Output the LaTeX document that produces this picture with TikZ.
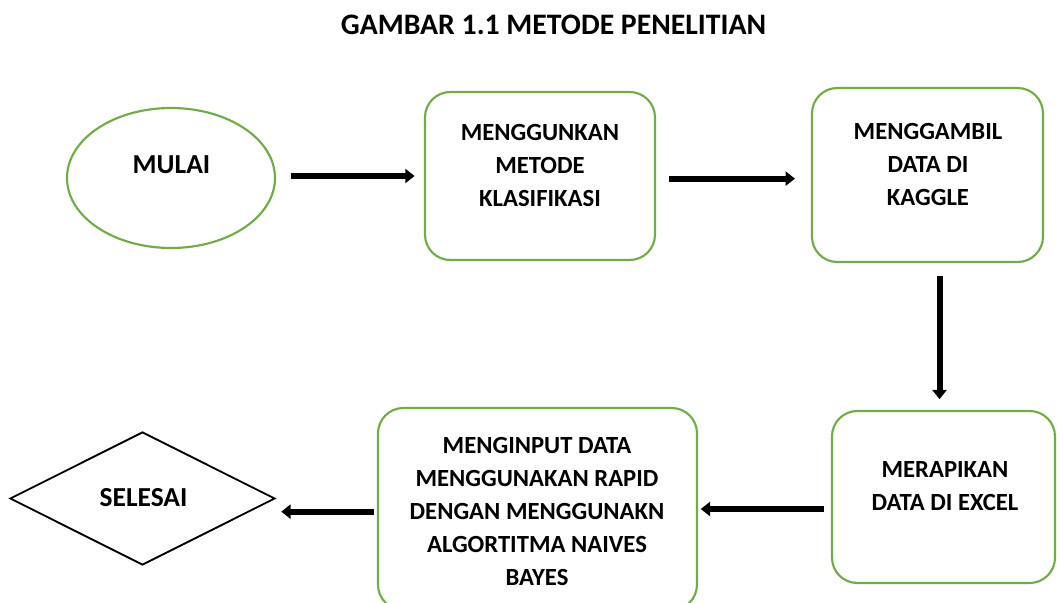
\documentclass[tikz,border=0pt]{standalone}
\usepackage{fontspec}
\setmainfont{Carlito}
\usetikzlibrary{shapes.geometric,arrows.meta}
\definecolor{ogreen}{RGB}{112,173,71}
\begin{document}
\begin{tikzpicture}[x=0.75pt,y=-0.75pt,
 box/.style={draw=ogreen,line width=1.6pt,rounded corners=19pt,inner sep=0pt,rectangle},
 txt/.style={font=\bfseries\fontsize{18.5}{24.75}\selectfont,align=center,inner sep=0pt},
 bigtxt/.style={txt,font=\bfseries\fontsize{20.6}{26}\selectfont},
 arr/.style={line width=4.5pt,-{Triangle[length=7pt,width=10.5pt]}}]
\useasboundingbox (0,0) rectangle (1057,603);
\fill[white] (0,0) rectangle (1057,603);
% title
\node[txt,font=\bfseries\fontsize{22.3}{26}\selectfont] (title) at (553.5,25) {GAMBAR 1.1 METODE PENELITIAN};
% shapes
\node[ellipse,draw=ogreen,line width=1.6pt,minimum width=156pt,minimum height=105pt,inner sep=0pt] (mulai) at (171,178) {};
\node[box,minimum width=172.5pt,minimum height=126pt] (b1) at (540,176) {};
\node[box,minimum width=173.25pt,minimum height=130.5pt] (b2) at (927.5,175) {};
\node[box,minimum width=167.25pt,minimum height=129pt] (b3) at (943.5,497) {};
\node[box,minimum width=239.25pt,minimum height=151.5pt] (b4) at (537.5,509) {};
\node[diamond,draw=black,line width=1.4pt,aspect=2,inner sep=0pt,minimum width=198.75pt,minimum height=99.75pt] (sel) at (142.5,498.5) {};
% texts
\node[bigtxt] (tm) at (171.5,165) {MULAI};
\node[txt] (t1) at (540,165) {MENGGUNKAN\\METODE\\KLASIFIKASI};
\node[txt] (t2) at (928,164) {MENGGAMBIL\\DATA DI\\KAGGLE};
\node[txt] (t3) at (945,486.5) {MERAPIKAN\\DATA DI EXCEL};
\node[txt] (t4) at (537,511.5) {MENGINPUT DATA\\MENGGUNAKAN RAPID\\DENGAN MENGGUNAKN\\ALGORTITMA NAIVES\\BAYES};
\node[bigtxt] (ts) at (143.5,498) {SELESAI};
% arrows
\draw[arr,shorten <=11pt,shorten >=7pt] (mulai.east |- b1.west) -- (b1.west);
\draw[arr,shorten <=10pt,shorten >=12pt] ([yshift=-2pt]b1.east) -- ([yshift=-2pt]b1.east -| b2.west);
\draw[arr,shorten <=10pt,shorten >=8pt] ([xshift=9pt]b2.south) -- ([xshift=9pt]b2.south |- b3.north);
\draw[arr,shorten <=5pt,shorten >=2pt] (b4.east -| b3.west) -- (b4.east);
\draw[arr,shorten <=2pt,shorten >=4pt] ([yshift=-2pt]b4.west) -- ([yshift=-2pt]b4.west -| sel.east);
\end{tikzpicture}
\end{document}
